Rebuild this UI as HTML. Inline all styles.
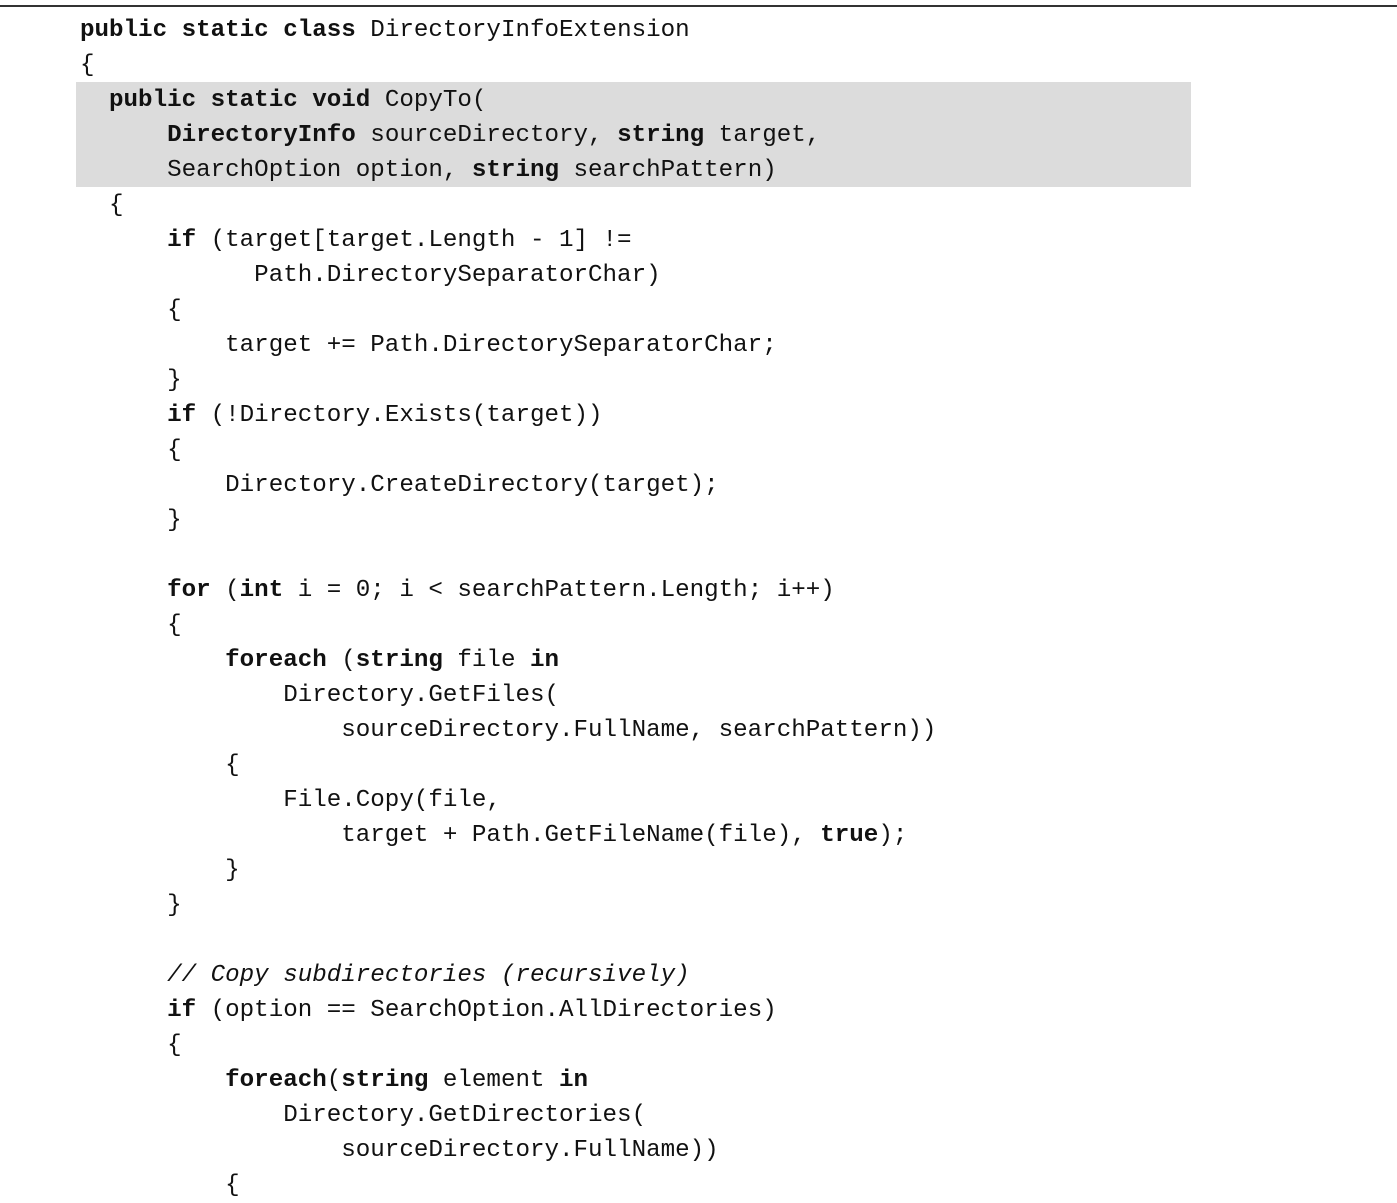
<!DOCTYPE html>
<html><head><meta charset="utf-8"><style>
html,body{margin:0;padding:0;background:#fff;}
body{width:1397px;height:1198px;position:relative;overflow:hidden;}
.rule{position:absolute;left:0;top:5px;width:1397px;height:1.5px;background:#333;}
.hl{position:absolute;left:76px;top:82px;width:1115px;height:105px;background:#dcdcdc;}
pre{position:absolute;left:80px;top:12.5px;margin:0;font-family:"Liberation Mono",monospace;font-size:24.2px;line-height:35px;color:#111;}
b{font-weight:bold;}
i{font-style:italic;}
</style></head><body>
<div class="rule"></div>
<div class="hl"></div>
<pre><b>public static class</b> DirectoryInfoExtension
{
  <b>public static void</b> CopyTo(
      <b>DirectoryInfo</b> sourceDirectory, <b>string</b> target,
      SearchOption option, <b>string</b> searchPattern)
  {
      <b>if</b> (target[target.Length - 1] !=
            Path.DirectorySeparatorChar)
      {
          target += Path.DirectorySeparatorChar;
      }
      <b>if</b> (!Directory.Exists(target))
      {
          Directory.CreateDirectory(target);
      }

      <b>for</b> (<b>int</b> i = 0; i &lt; searchPattern.Length; i++)
      {
          <b>foreach</b> (<b>string</b> file <b>in</b>
              Directory.GetFiles(
                  sourceDirectory.FullName, searchPattern))
          {
              File.Copy(file,
                  target + Path.GetFileName(file), <b>true</b>);
          }
      }

      <i>// Copy subdirectories (recursively)</i>
      <b>if</b> (option == SearchOption.AllDirectories)
      {
          <b>foreach</b>(<b>string</b> element <b>in</b>
              Directory.GetDirectories(
                  sourceDirectory.FullName))
          {
</pre>
</body></html>
